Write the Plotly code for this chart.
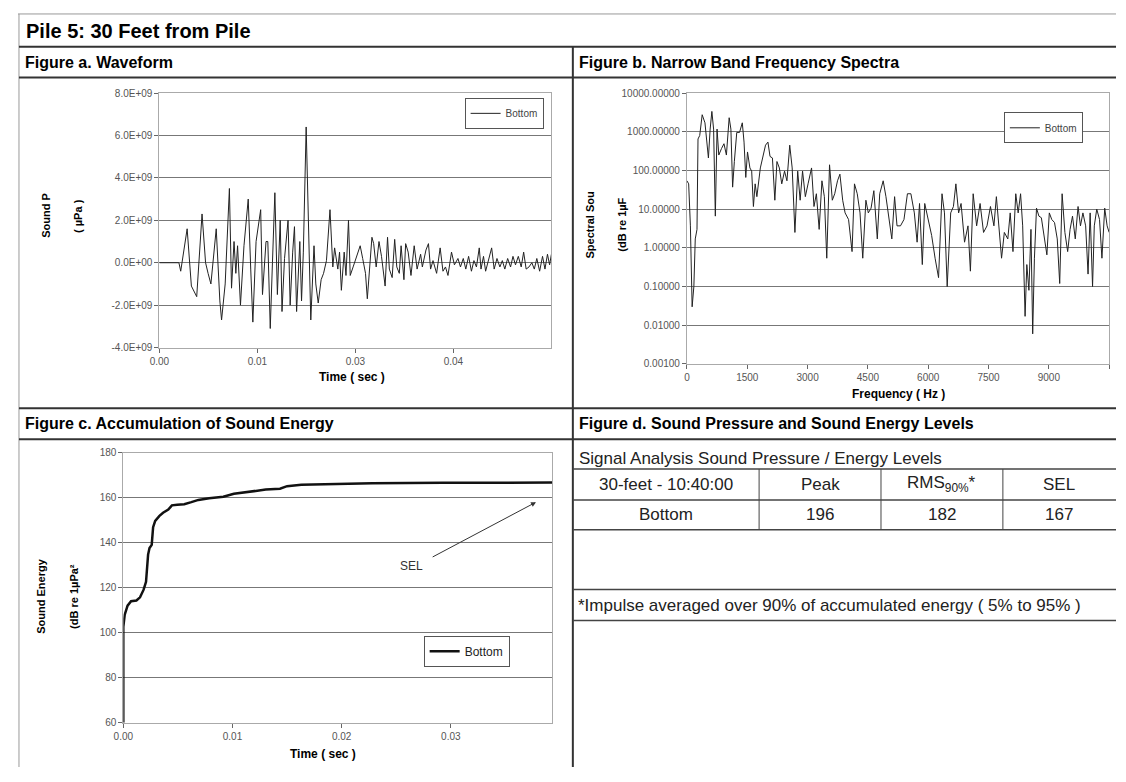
import plotly.graph_objects as go

W, H = 1126, 782

# Figure a: waveform (time in ms, pressure in 1e9 uPa)
wave_t_ms = [0, 2.49, 2.72, 3.54, 4.08, 4.76, 5.44, 5.89, 6.21, 6.57,
             7.25, 7.71, 7.93, 8.39, 8.93, 9.20, 9.52, 9.75, 9.97, 10.34,
             10.79, 11.33, 11.65, 11.92, 12.33, 12.92, 13.15, 13.60, 13.83, 14.14,
             14.42, 14.73, 15.05, 15.41, 15.64, 15.96, 16.41, 16.68, 17.00, 17.23,
             17.50, 17.91, 18.13, 18.36, 18.72, 19.04, 19.31, 19.72, 19.95, 20.26,
             20.63, 20.94, 21.31, 21.76, 22.12, 22.35, 22.76, 22.98, 23.21, 23.57,
             23.80, 24.12, 24.34, 24.71, 25.16, 25.61, 25.93, 26.29, 26.52, 26.75,
             27.11, 27.33, 27.65, 28.01, 28.33, 28.79, 29.10, 29.33, 29.69, 30.01,
             30.28, 30.60, 30.83, 31.19, 31.41, 31.73, 32.09, 32.50, 32.87, 33.32,
             33.54, 34.00, 34.32, 34.59, 34.90, 35.36, 35.81, 36.17, 36.49, 36.81,
             37.26, 37.63, 38.08, 38.40, 38.76, 39.08, 39.44, 39.80, 40.12, 40.44,
             40.80, 41.02, 41.34, 41.61, 41.93, 42.38, 42.70, 43.06, 43.43, 43.74,
             44.06, 44.42, 44.79, 45.10, 45.42, 45.78, 46.15, 46.46, 46.78, 47.14,
             47.51, 47.82, 48.14, 48.50, 48.87, 49.18, 49.50, 49.77, 50.00]
wave_p_e9 = [0, 0, -0.4, 1.6, -1.1, -1.6, 2.3, 0, -0.5, -1.0,
             1.6, -1.8, -2.7, -1.0, 3.5, -1.2, 1.0, -0.5, 0.8, -2.0,
             0.8, 3.0, -0.3, -2.8, 1.0, 2.5, -1.5, 1.0, 1.0, -3.1,
             0, 3.3, -1.5, 2.0, -2.3, 0.2, 2.0, -2.0, 0.5, 1.7,
             -2.3, 1.0, -1.8, 0.5, 6.4, 1.5, -2.7, 0.8, -1.0, -1.9,
             -0.8, -0.5, 0.1, 2.5, -0.2, 0.7, -0.3, 0.5, -1.3, 0.5,
             -0.6, 2.0, -0.6, -0.2, 0.3, 0.8, 0.2, -0.5, -1.7, -0.6,
             1.2, 0.9, -0.2, 1.0, 0.3, -1.1, 1.2, -0.3, -0.7, 1.1,
             -0.2, -0.5, 0.8, -0.8, 0.9, 0.5, -0.6, 0.8, -0.3, 0.4,
             -0.2, 0.6, 0.9, -0.3, 0.1, -0.5, 0.7, -0.4, -0.2, -0.6,
             0.5, -0.1, 0.2, -0.2, 0.2, -0.3, 0.3, -0.4, 0.1, -0.2,
             0.7, -0.3, 0.3, -0.4, 0.1, 0.7, -0.3, 0.2, -0.2, 0.1,
             -0.3, 0.2, -0.2, 0.3, -0.1, 0.3, -0.2, 0.5, -0.3, -0.2,
             0.0, -0.3, 0.2, -0.4, 0.3, -0.3, 0.4, -0.1, 0.4]

# Figure b: narrow band spectrum
spec_hz = [0, 43, 86, 129, 172, 207, 250, 275, 318, 379,
           448, 491, 534, 577, 620, 663, 706, 749, 792, 861,
           921, 981, 1050, 1093, 1136, 1179, 1239, 1308, 1377, 1420,
           1463, 1506, 1566, 1610, 1653, 1696, 1739, 1825, 1894, 1954,
           2014, 2066, 2126, 2186, 2238, 2298, 2358, 2427, 2487, 2556,
           2617, 2685, 2754, 2815, 2875, 2944, 3012, 3099, 3159, 3219,
           3288, 3357, 3417, 3477, 3546, 3615, 3675, 3744, 3804, 3873,
           3933, 4019, 4106, 4166, 4235, 4304, 4372, 4450, 4510, 4579,
           4648, 4734, 4794, 4880, 4949, 5026, 5095, 5164, 5224, 5310,
           5397, 5483, 5569, 5655, 5724, 5784, 5853, 5913, 5999, 6085,
           6171, 6257, 6343, 6404, 6472, 6559, 6627, 6688, 6756, 6817,
           6903, 6989, 7049, 7118, 7204, 7290, 7376, 7462, 7548, 7634,
           7695, 7763, 7824, 7893, 7979, 8039, 8108, 8177, 8237, 8297,
           8349, 8409, 8452, 8504, 8555, 8598, 8641, 8693, 8753, 8814,
           8883, 8951, 9011, 9072, 9141, 9209, 9270, 9330, 9399, 9468,
           9528, 9588, 9657, 9726, 9786, 9847, 9915, 9975, 10027, 10087,
           10130, 10191, 10260, 10320, 10389, 10449, 10500]
spec_level = [54, 45, 3.7, 0.03, 0.1, 1.7, 3, 650, 800, 2750,
              1700, 450, 210, 1170, 3350, 1170, 6.6, 1170, 250, 370,
              490, 250, 2300, 1170, 37, 170, 960, 960, 1700, 540,
              66, 300, 116, 96, 11.7, 45, 21, 116, 230, 450,
              540, 230, 210, 17, 170, 116, 45, 96, 54, 450,
              116, 2.5, 96, 17, 96, 21, 45, 116, 11.7, 25,
              3.0, 54, 21, 0.54, 140, 17, 25, 54, 80, 17,
              8, 5.4, 0.8, 45, 25, 8, 0.54, 17, 8, 10.6,
              30, 1.7, 25, 54, 21, 5.4, 1.7, 21, 3.7, 3.7,
              5.4, 25, 25, 8, 1.4, 14, 0.37, 14, 5.4, 2.1,
              0.54, 0.17, 25, 8, 0.1, 8, 11.7, 45, 8, 14,
              1.4, 3.7, 0.25, 25, 3.7, 14, 2.5, 3.7, 11.7, 3.7,
              21, 3.7, 0.54, 2.5, 1.7, 8, 0.8, 25, 8, 25,
              3.7, 0.017, 0.37, 0.08, 3.0, 0.006, 0.54, 10.6, 6.6, 6.0,
              1.7, 0.66, 8, 5.4, 4.5, 1.7, 0.12, 25, 2.5, 0.8,
              3.0, 6.6, 1.7, 11.7, 3.7, 8, 3.7, 0.21, 8, 0.1,
              3.7, 10, 5.4, 0.54, 10.6, 3.7, 2.5]

# Figure c: accumulated sound energy
sel_t = [0, 0, 0.00013, 0.00039, 0.00071, 0.0012, 0.00153, 0.00185, 0.00208, 0.00218,
         0.00227, 0.0024, 0.0026, 0.00273, 0.00292, 0.00331, 0.00364, 0.00412, 0.00445, 0.00494,
         0.00558, 0.00623, 0.00688, 0.00786, 0.00916, 0.01013, 0.01143, 0.01305, 0.01435, 0.015,
         0.0163, 0.01955, 0.02279, 0.02929, 0.03929]
sel_db = [60, 102.6, 108, 112, 114, 114.3, 115.7, 119, 122.6, 128,
          134.7, 137.6, 139, 146.9, 149.7, 151.9, 153.3, 154.7, 156.6, 156.9,
          157.1, 158, 159, 159.7, 160.4, 161.7, 162.6, 163.6, 164, 165.1,
          165.7, 166.1, 166.4, 166.6, 166.7]

# Figure d: table
table_header = ["30-feet - 10:40:00", "Peak", "RMS<sub>90%</sub>*", "SEL"]
table_row = ["Bottom", "196", "182", "167"]


def px(x):
    return x / W


def py(y):
    return 1 - y / H


fig = go.Figure()
fig.add_trace(go.Scatter(x=[t / 1000 for t in wave_t_ms], y=[p * 1e9 for p in wave_p_e9],
                         mode="lines", line=dict(color="#222", width=1), name="Bottom",
                         xaxis="x", yaxis="y", legend="legend"))
fig.add_trace(go.Scatter(x=spec_hz, y=spec_level, mode="lines",
                         line=dict(color="#222", width=1), name="Bottom",
                         xaxis="x2", yaxis="y2", legend="legend2"))
fig.add_trace(go.Scatter(x=sel_t, y=sel_db, mode="lines",
                         line=dict(color="#111", width=2.5), name="Bottom",
                         xaxis="x3", yaxis="y3", legend="legend3"))

tickfont = dict(family="Liberation Sans", size=10, color="#555")
axis_common = dict(showline=True, mirror=True, linecolor="#aaa", ticks="outside",
                   ticklen=4, tickcolor="#666", tickfont=tickfont, zeroline=False)

legend_style = dict(bgcolor="white", bordercolor="#555", borderwidth=1,
                    font=dict(family="Liberation Sans", size=10, color="#444"),
                    xanchor="left", yanchor="top", itemwidth=30)

# page has an 8px body margin, so draw slightly smaller than the window
fig.update_layout(
    width=1108, height=764, margin=dict(l=0, r=0, t=0, b=0),
    paper_bgcolor="white", plot_bgcolor="white",
    font=dict(family="Liberation Sans", color="#000"),
    xaxis=dict(domain=[px(145), px(547)], anchor="y", range=[0, 0.05],
               tickvals=[0, 0.0125, 0.025, 0.0375], ticktext=["0.00", "0.01", "0.03", "0.04"],
               showgrid=False, **axis_common),
    yaxis=dict(domain=[py(347), py(83)], anchor="x", range=[-4e9, 8e9],
               tickvals=[-4e9, -2e9, 0, 2e9, 4e9, 6e9, 8e9],
               ticktext=["-4.0E+09", "-2.0E+09", "0.0E+00", "2.0E+09", "4.0E+09", "6.0E+09", "8.0E+09"],
               showgrid=True, gridcolor="#777", **axis_common),
    xaxis2=dict(domain=[px(686), px(1119)], anchor="y2", range=[0, 10500],
                tickvals=[0, 1500, 3000, 4500, 6000, 7500, 9000, 10500],
                ticktext=["0", "1500", "3000", "4500", "6000", "7500", "9000", "1050"],
                showgrid=False, **axis_common),
    yaxis2=dict(domain=[py(364), py(83)], anchor="x2", type="log", range=[-3, 4],
                tickvals=[0.001, 0.01, 0.1, 1, 10, 100, 1000, 10000],
                ticktext=["0.00100", "0.01000", "0.10000", "1.00000", "10.00000",
                          "100.00000", "1000.00000", "10000.00000"],
                showgrid=True, gridcolor="#777", **axis_common),
    xaxis3=dict(domain=[px(108), px(548)], anchor="y3", range=[0, 0.0393],
                tickvals=[0, 0.01, 0.02, 0.03], ticktext=["0.00", "0.01", "0.02", "0.03"],
                showgrid=False, **axis_common),
    yaxis3=dict(domain=[py(736), py(456)], anchor="x3", range=[60, 180], dtick=20,
                showgrid=True, gridcolor="#777", **axis_common),
    legend=dict(x=px(458), y=py(88), **legend_style),
    legend2=dict(x=px(1011), y=py(103), **legend_style),
    legend3=dict(x=px(416), y=py(646), **{**legend_style, "font": dict(family="Liberation Sans", size=12, color="#222")}),
    showlegend=True,
)

shapes = []


def hline(y, x0, x1, w=2, c="#333"):
    shapes.append(dict(type="line", xref="paper", yref="paper", x0=px(x0), x1=px(x1),
                       y0=py(y), y1=py(y), line=dict(color=c, width=w)))


def vline(x, y0, y1, w=2, c="#333"):
    shapes.append(dict(type="line", xref="paper", yref="paper", x0=px(x), x1=px(x),
                       y0=py(y0), y1=py(y1), line=dict(color=c, width=w)))


hline(1, 0, 1126, 1, "#999")
vline(1, 1, 782, 1, "#999")
for y in [35, 67, 410, 442]:
    hline(y, 1, 1126)
vline(569, 35, 782)
for y in [473, 505, 536, 598, 630]:
    hline(y, 569, 1126, 1.5, "#444")
for x in [760, 885, 1010]:
    vline(x, 473, 536, 1, "#444")
fig.update_layout(shapes=shapes)

ann = []


def text(x, y, s, size, bold=False, anchor="left", angle=0, color="#000"):
    ann.append(dict(xref="paper", yref="paper", x=px(x), y=py(y), text=f"<b>{s}</b>" if bold else s,
                    showarrow=False, xanchor=anchor, yanchor="middle", textangle=angle,
                    font=dict(family="Liberation Sans", size=size, color=color)))


text(6, 19, "Pile 5: 30 Feet from Pile", 20, True)
text(5, 51, "Figure a. Waveform", 16, True)
text(573, 51, "Figure b. Narrow Band Frequency Spectra", 16, True)
text(5, 426, "Figure c. Accumulation of Sound Energy", 16, True)
text(573, 426, "Figure d. Sound Pressure and Sound Energy Levels", 16, True)

text(343, 378, "Time ( sec )", 12, True, "center")
text(903, 395, "Frequency ( Hz )", 12, True, "center")
text(313, 768, "Time ( sec )", 12, True, "center")
text(29, 210, "Sound P", 11, True, "center", -90)
text(62, 210, "( µPa )", 11, True, "center", -90)
text(587, 220, "Spectral Sou", 11, True, "center", -90)
text(620, 220, "(dB re 1µF", 11, True, "center", -90)
text(24, 605, "Sound Energy", 11, True, "center", -90)
text(58, 605, "(dB re 1µPa²", 11, True, "center", -90)

text(573, 462, "Signal Analysis Sound Pressure / Energy Levels", 17, False, color="#222")
cols = [(569, 760), (760, 885), (885, 1010), (1010, 1126)]
for (a, b), h, r in zip(cols, table_header, table_row):
    text((a + b) / 2, 489, h, 17, False, "center", color="#222")
    text((a + b) / 2, 520, r, 17, False, "center", color="#222")
text(572, 614, "*Impulse averaged over 90% of accumulated energy ( 5% to 95% )", 17, False, color="#222")

# SEL arrow on figure c
ann.append(dict(xref="x3", yref="y3", x=0.0378, y=158, ax=0.0282, ay=133.3,
                axref="x3", ayref="y3", text="", showarrow=True, arrowhead=2,
                arrowsize=1, arrowwidth=1, arrowcolor="#333"))
ann.append(dict(xref="x3", yref="y3", x=0.0264, y=129.7, text="SEL", showarrow=False,
                font=dict(family="Liberation Sans", size=12, color="#333")))
fig.update_layout(annotations=ann)

fig.write_html("out.html")
